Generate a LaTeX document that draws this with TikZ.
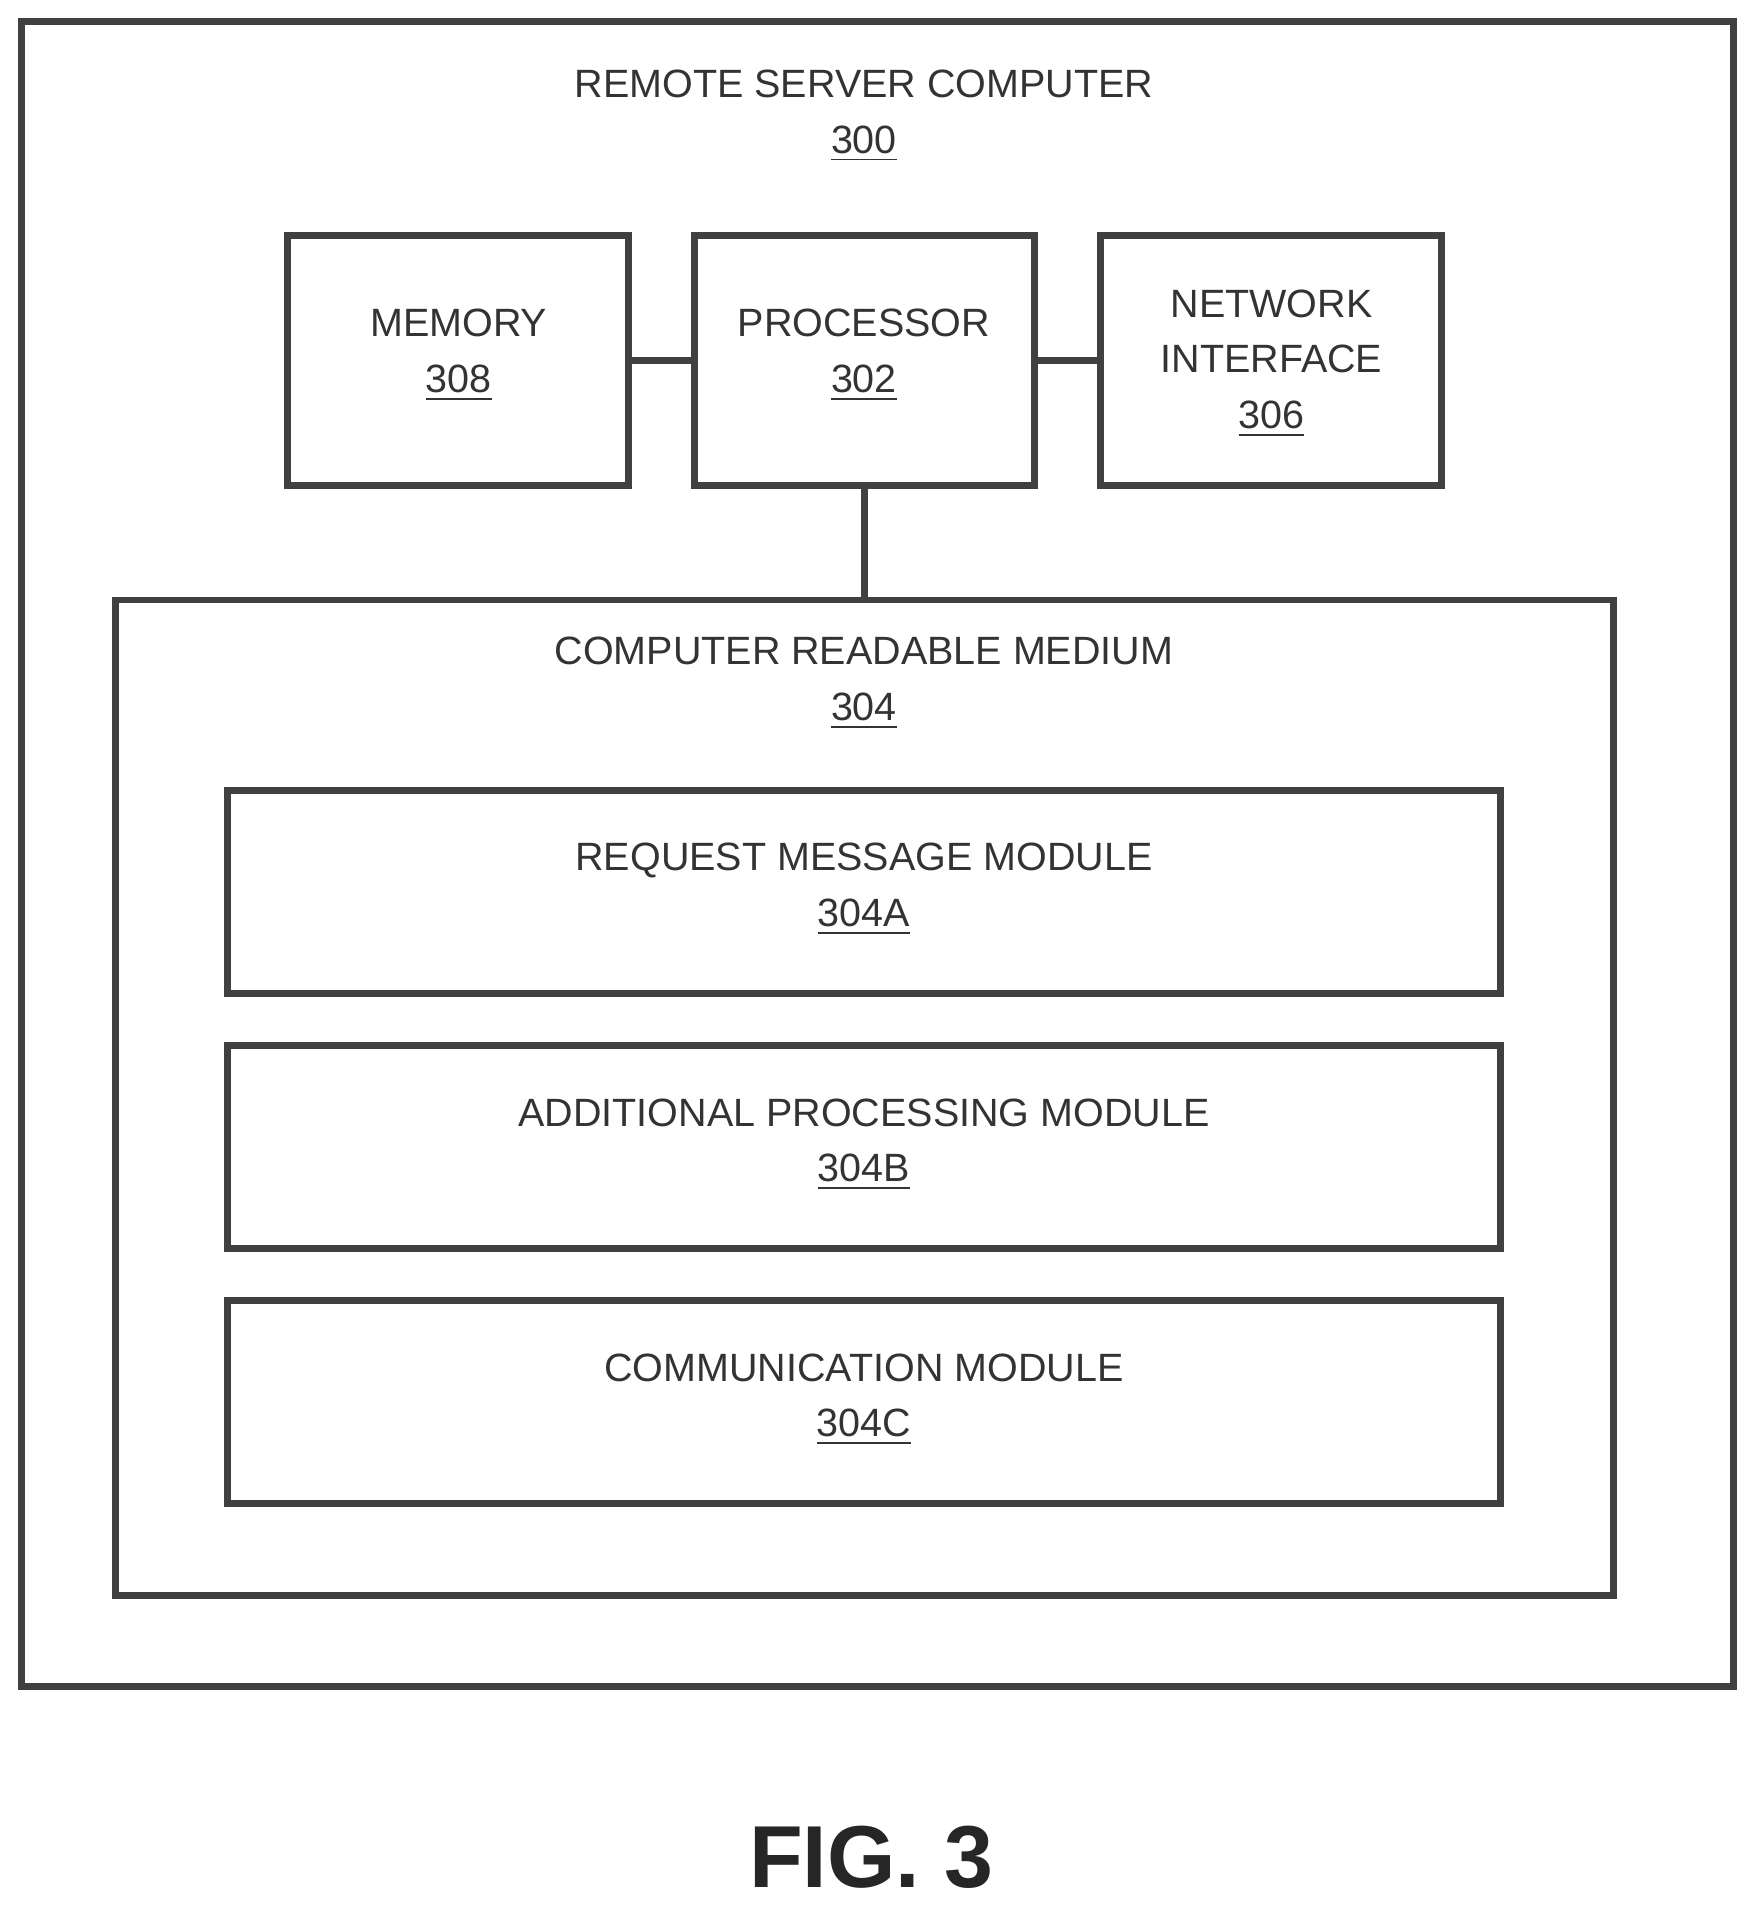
\documentclass[tikz,border=0pt]{standalone}
\usepackage{fontspec}
\setmainfont{Liberation Sans}
\usepackage{tikz}
\tikzstyle{unitbox} = [draw=black!75, line width=1.6pt, rectangle, inner sep=0pt]
\tikzstyle{lbl} = [align=center, font=\fontsize{9.2}{13}\selectfont, text=black!80]
\tikzstyle{wire} = [draw=black!75, line width=1.6pt]
\begin{document}
\begin{tikzpicture}[x=0.01cm, y=-0.01cm]
\useasboundingbox (0,0) rectangle (1440,1571);
% outer frame
\node [unitbox, minimum width=14.02cm, minimum height=13.64cm] (server) at (719,700) {};
\node [lbl] (servertxt) at (708,95) {REMOTE SERVER COMPUTER\\\underline{300}};
% top row
\node [unitbox, minimum width=2.79cm, minimum height=2.05cm] (memory) at (375.5,295.5) {};
\node [lbl] at (376,291) {MEMORY\\\underline{308}};
\node [unitbox, minimum width=2.79cm, minimum height=2.05cm] (processor) at (708.5,295.5) {};
\node [lbl] at (708,291) {PROCESSOR\\\underline{302}};
\node [unitbox, minimum width=2.79cm, minimum height=2.05cm] (netif) at (1041.5,295.5) {};
\node [lbl] at (1042,298) {NETWORK\\INTERFACE\\\underline{306}};
% medium
\node [unitbox, minimum width=12.27cm, minimum height=8.15cm] (medium) at (708.5,899.5) {};
\node [lbl] (mediumtxt) at (708,560) {COMPUTER READABLE MEDIUM\\\underline{304}};
\node [unitbox, minimum width=10.42cm, minimum height=1.66cm] (reqmod) at (708,731) {};
\node [lbl] at (708,729) {REQUEST MESSAGE MODULE\\\underline{304A}};
\node [unitbox, minimum width=10.42cm, minimum height=1.66cm] (addmod) at (708,940) {};
\node [lbl] at (708,938) {ADDITIONAL PROCESSING MODULE\\\underline{304B}};
\node [unitbox, minimum width=10.42cm, minimum height=1.66cm] (commod) at (708,1149) {};
\node [lbl] at (708,1147) {COMMUNICATION MODULE\\\underline{304C}};
% links
\draw [wire] (memory) -- (processor);
\draw [wire] (processor) -- (netif);
\draw [wire] (processor) -- (medium);
\node [font=\fontsize{20.5}{24}\selectfont\bfseries, text=black!85] (fig) at (714,1522) {FIG. 3};
\end{tikzpicture}
\end{document}
